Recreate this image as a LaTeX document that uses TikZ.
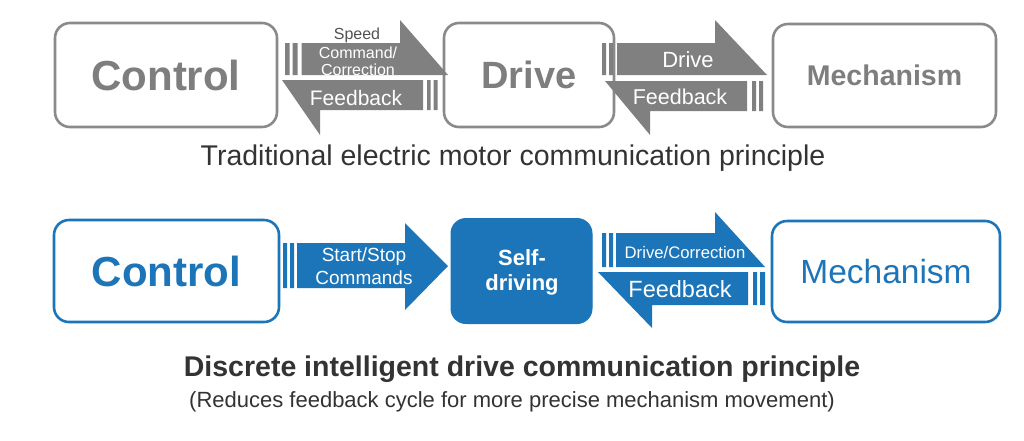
\documentclass[tikz,border=0pt]{standalone}
\usepackage{fontspec}
\setmainfont{Liberation Sans}
\definecolor{boxgray}{HTML}{8A8A8A}
\definecolor{arrgray}{HTML}{808080}
\definecolor{txtgray}{HTML}{7E7E7E}
\definecolor{myblue}{HTML}{1C75B8}
\definecolor{capt}{HTML}{333333}
\newcommand{\fs}[1]{\fontsize{#1}{#1}\selectfont}
\begin{document}
\begin{tikzpicture}[x=1pt,y=-1pt,
  graybox/.style={draw=boxgray, line width=2.6pt, rounded corners=15pt, inner sep=0pt, text=txtgray, font=\bfseries},
  bluebox/.style={draw=myblue, line width=2.6pt, rounded corners=15pt, inner sep=0pt, text=myblue},
  lbl/.style={inner sep=0pt, text=white, align=center}]
\useasboundingbox (0,0) rectangle (1024,440);
\fill[white] (0,0) rectangle (1024,440);
% ---- top row boxes
\node[graybox, minimum width=222pt, minimum height=104pt, font=\bfseries\fs{42}] (ctrlA) at (166,75) {Control};
\node[graybox, minimum width=170pt, minimum height=104pt, font=\bfseries\fs{38}] (drvA) at (529,75) {Drive};
\node[graybox, minimum width=223pt, minimum height=103pt, font=\bfseries\fs{28.5}] (mechA) at (884.5,75.5) {Mechanism};
% ---- top arrows
\fill[arrgray] (285,43) rectangle (289.5,75) (292.5,43) rectangle (297.5,75);
\fill[arrgray] (301.5,43) -- (400,43) -- (400,20) -- (448,75) -- (301.5,75) -- cycle;
\fill[arrgray] (282,80) -- (423,80) -- (423,110) -- (320,110) -- (320,135) -- cycle;
\fill[arrgray] (427,80) rectangle (430.5,110) (433.5,80) rectangle (437.5,110);
\node[inner sep=0pt, text=capt!85, font=\fs{16}] (spd) at (357,35) {Speed};
\node[lbl, font=\fs{16}] (cmd) at (358,53) {Command/};
\node[lbl, font=\fs{16}] (cor) at (358,70) {Correction};
\node[lbl, font=\fs{21}] (fbA) at (356,98) {Feedback};
\fill[arrgray] (602,43) rectangle (606,75) (609,43) rectangle (613,75);
\fill[arrgray] (617,43) -- (715,43) -- (715,20) -- (767,75) -- (617,75) -- cycle;
\fill[arrgray] (605,81) -- (747,81) -- (747,111) -- (650,111) -- (650,135) -- cycle;
\fill[arrgray] (752,81) rectangle (756,111) (759,81) rectangle (763,111);
\node[lbl, font=\fs{22}] (drvL) at (688,60) {Drive};
\node[lbl, font=\fs{21.5}] (fbB) at (680,97) {Feedback};
\node[inner sep=0pt, text=capt, font=\fs{28.5}] (capA) at (513,158) {Traditional electric motor communication principle};
% ---- bottom row boxes
\node[bluebox, minimum width=225pt, minimum height=102pt, font=\bfseries\fs{42}] (ctrlB) at (166.5,271) {Control};
\node[draw=myblue, fill=myblue, line width=1pt, rounded corners=15pt, minimum width=141pt, minimum height=105pt, inner sep=0pt] (selfB) at (521.5,271) {};
\node[lbl, font=\bfseries\fs{22}] (selfT) at (522,272.5) {Self-\\[3pt]driving};
\node[bluebox, minimum width=228pt, minimum height=101pt, font=\fs{33.5}] (mechB) at (886,271.5) {Mechanism};
% ---- bottom arrows
\fill[myblue] (283,243) rectangle (287,288) (290,243) rectangle (294,288);
\fill[myblue] (297,243) -- (405,243) -- (405,223) -- (448,266) -- (405,310) -- (405,288) -- (297,288) -- cycle;
\node[lbl, font=\fs{19}] (ss) at (364,257) {Start/Stop};
\node[lbl, font=\fs{19}] (cm) at (364,278) {Commands};
\fill[myblue] (602,233) rectangle (606,267) (609,233) rectangle (613,267);
\fill[myblue] (616,233) -- (715,233) -- (715,212) -- (765,267) -- (616,267) -- cycle;
\fill[myblue] (598,272) -- (748,272) -- (748,305) -- (652,305) -- (652,328) -- cycle;
\fill[myblue] (753,272) rectangle (757,305) (760,272) rectangle (765,305);
\node[lbl, font=\fs{16.7}] (dc) at (685,253) {Drive/Correction};
\node[lbl, font=\fs{23.5}] (fbC) at (680,289) {Feedback};
\node[inner sep=0pt, text=capt, font=\bfseries\fs{28.5}] (capB) at (522,369) {Discrete intelligent drive communication principle};
\node[inner sep=0pt, text=capt, font=\fs{22}] (capC) at (512,402) {(Reduces feedback cycle for more precise mechanism movement)};
\end{tikzpicture}
\end{document}
